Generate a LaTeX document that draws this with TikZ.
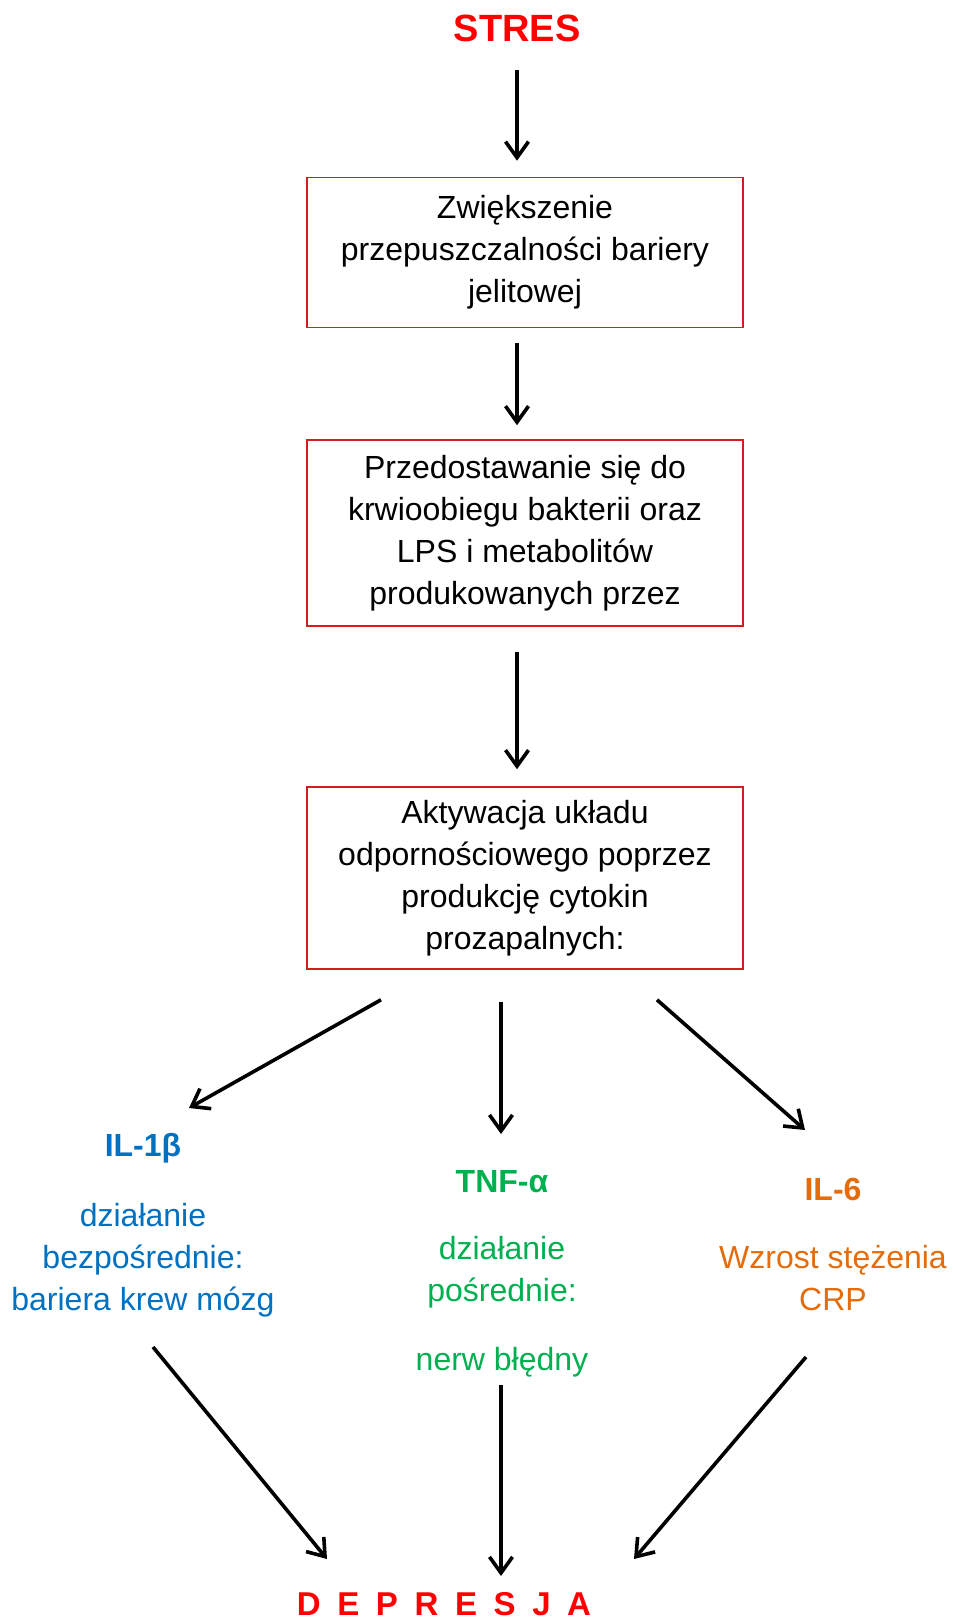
\documentclass[tikz,border=0pt]{standalone}
\usepackage{fontspec}
\setmainfont{Liberation Sans}
\usetikzlibrary{arrows.meta,calc,positioning}
\definecolor{stresred}{RGB}{255,0,0}
\definecolor{boxred}{RGB}{210,30,30}
\definecolor{ilblue}{RGB}{0,112,192}
\definecolor{tnfgreen}{RGB}{0,176,80}
\definecolor{ilorange}{RGB}{228,108,10}
\tikzstyle{block} = [rectangle, draw=boxred, line width=0.8pt, text centered, align=center, minimum width=218pt, minimum height=75pt, inner sep=0pt, font=\fontsize{16}{21}\selectfont]
\tikzstyle{lbl} = [align=center, inner sep=0pt, font=\fontsize{16}{21}\selectfont]
\tikzstyle{head} = [lbl, font=\fontsize{16}{21}\selectfont\bfseries]
\tikzstyle{arr} = [-{Straight Barb[length=8pt,width=11.5pt]}, line width=1.8pt]

\begin{document}
\begin{tikzpicture}[x=0.5pt, y=-0.5pt]
    \useasboundingbox (0,0) rectangle (952,1620);
    \node[lbl, text=stresred, font=\fontsize{19}{23}\selectfont\bfseries] (stres) at (517,28) {STRES};
    \node[block] (bar) at (525,252.5) {Zwiększenie\\przepuszczalności bariery\\jelitowej};
    \node[block, minimum height=93pt] (blood) at (525,533) {Przedostawanie się do\\krwioobiegu bakterii oraz\\LPS i metabolitów\\produkowanych przez};
    \node[block, minimum height=91pt] (immune) at (525,878) {Aktywacja układu\\odpornościowego poprzez\\produkcję cytokin\\prozapalnych:};

    \node[head, text=ilblue] (ilb) at (143,1148) {IL-1β};
    \node[lbl, text=ilblue] (ilbtxt) at (143,1260) {działanie\\bezpośrednie:\\bariera krew mózg};
    \node[head, text=tnfgreen] (tnf) at (502,1182) {TNF-α};
    \node[lbl, text=tnfgreen] (tnftxt) at (502,1272) {działanie\\pośrednie:};
    \node[lbl, text=tnfgreen] (nerw) at (502,1362) {nerw błędny};
    \node[head, text=ilorange] (ilsix) at (833,1189) {IL-6};
    \node[lbl, text=ilorange] (ilsixtxt) at (833,1278) {Wzrost stężenia\\CRP};

    \node[lbl, text=stresred, font=\fontsize{16.5}{20}\selectfont\bfseries] (dep) at (444,1604) {D\hspace{8.3pt}E\hspace{8.3pt}P\hspace{8.3pt}R\hspace{8.3pt}E\hspace{8.3pt}S\hspace{8.3pt}J\hspace{8.3pt}A};

    \draw[arr] ($(stres.center)+(0,42)$) -- ($(bar.north)+(-8,-16)$);
    \draw[arr] ($(bar.south)+(-8,15)$) -- ($(blood.north)+(-8,-14)$);
    \draw[arr] ($(blood.south)+(-8,25)$) -- ($(immune.north)+(-8,-17)$);

    \draw[arr] ($(immune.south)+(-144,30)$) -- ($(ilb.center)+(46,-40)$);
    \draw[arr] ($(immune.south)+(-24,32)$) -- ($(tnf.center)+(-1,-48)$);
    \draw[arr] ($(immune.south)+(132,30)$) -- ($(ilsix.center)+(-28,-59)$);

    \draw[arr] ($(ilbtxt.center)+(10,87)$) -- ($(dep.center)+(-117,-45)$);
    \draw[arr] ($(nerw.center)+(-1,23)$) -- ($(dep.center)+(57,-28)$);
    \draw[arr] ($(ilsixtxt.center)+(-27,79)$) -- ($(dep.center)+(190,-45)$);
\end{tikzpicture}
\end{document}
